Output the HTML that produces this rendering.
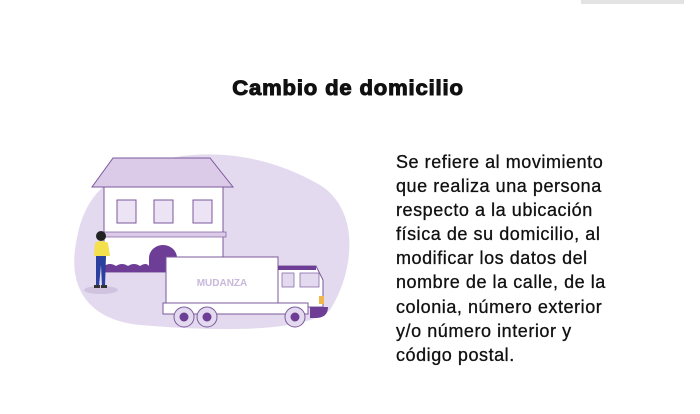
<!DOCTYPE html>
<html><head><meta charset="utf-8"><style>
body{margin:0;width:700px;height:414px;background:#fff;position:relative;overflow:hidden;font-family:"Liberation Sans",sans-serif}
.bar{position:absolute;left:581px;top:0;width:103px;height:4px;background:#e3e3e3}
h1{position:absolute;left:0;width:696px;top:77px;margin:0;text-align:center;font-size:21px;font-weight:bold;color:#111;letter-spacing:0.8px;-webkit-text-stroke:1px #111;transform:scaleX(1.05);transform-origin:348px 0}
p{position:absolute;left:396px;top:150px;margin:0;font-size:18px;letter-spacing:0.55px;line-height:24.1px;color:#111;-webkit-text-stroke:0.3px #111}
svg{position:absolute;left:0;top:0}
</style></head><body>
<div class="bar"></div>
<h1>Cambio de domicilio</h1>
<p>Se refiere al movimiento<br>que realiza una persona<br>respecto a la ubicación<br>física de su domicilio, al<br>modificar los datos del<br>nombre de la calle, de la<br>colonia, número exterior<br>y/o número interior y<br>código postal.</p>
<svg width="700" height="414">
<path d="M130 170 C190 145 260 150 320 185 C360 210 355 270 330 310 C300 335 200 330 140 325 C90 320 70 290 75 250 C80 210 95 185 130 170Z" fill="#e3daef"/>
<ellipse cx="101" cy="290" rx="17" ry="4" fill="#cfc3e0"/>
<polygon points="113,158 210,158 233,187 92,187" fill="#dccbe8" stroke="#7b5a9c" stroke-width="1"/>
<rect x="104" y="187" width="119" height="85" fill="#fff" stroke="#7b5a9c" stroke-width="1"/>
<rect x="117" y="200" width="19" height="23" fill="#ece3f5" stroke="#7b5a9c"/>
<rect x="154" y="200" width="19" height="23" fill="#ece3f5" stroke="#7b5a9c"/>
<rect x="193" y="200" width="19" height="23" fill="#ece3f5" stroke="#7b5a9c"/>
<rect x="103" y="232" width="123" height="5" fill="#dccbe8" stroke="#7b5a9c" stroke-width="0.7"/>
<path d="M149 272 V258 A14 13 0 0 1 177 258 V272Z" fill="#6e3d96"/>
<path d="M104 272 V266 Q110 262 116 266 Q122 262 128 266 Q134 262 140 266 Q146 262 149 266 V272Z" fill="#6e3d96"/>
<rect x="104" y="270" width="62" height="2" fill="#6e3d96"/>
<circle cx="101" cy="236" r="5" fill="#222"/>
<path d="M95 243 Q101 239 108 243 L110 256 L94 256Z" fill="#f4e04d"/>
<path d="M96 256 L106 256 L105 286 L102 286 L101 265 L99 286 L96 286Z" fill="#2b3f9e"/>
<rect x="94" y="285" width="6" height="3" fill="#333"/><rect x="101" y="285" width="6" height="3" fill="#333"/>
<rect x="166" y="257" width="112" height="46" fill="#fff" stroke="#7b5a9c"/>
<text x="222" y="286" text-anchor="middle" font-family="Liberation Sans" font-weight="bold" font-size="10" fill="#c8b8db">MUDANZA</text>
<path d="M278 266 H316 L323 280 V307 H278Z" fill="#fff" stroke="#7b5a9c"/>
<rect x="278" y="266" width="38" height="4" fill="#6e3d96"/>
<rect x="282" y="273" width="12" height="14" fill="#e3daef" stroke="#7b5a9c" stroke-width="0.7"/>
<rect x="300" y="273" width="19" height="14" fill="#e3daef" stroke="#7b5a9c" stroke-width="0.7"/>
<rect x="319" y="296" width="5" height="8" fill="#f0b84a"/>
<path d="M310 307 H328 Q328 318 315 318 H310Z" fill="#6e3d96"/>
<rect x="163" y="303" width="145" height="11" fill="#fff" stroke="#7b5a9c"/>
<g fill="#e3daef" stroke="#7b5a9c"><circle cx="184" cy="317" r="10"/><circle cx="207" cy="317" r="10"/><circle cx="295" cy="317" r="10"/></g>
<g fill="#6e3d96"><circle cx="184" cy="317" r="4.5"/><circle cx="207" cy="317" r="4.5"/><circle cx="295" cy="317" r="4.5"/></g>
</svg>
</body></html>
